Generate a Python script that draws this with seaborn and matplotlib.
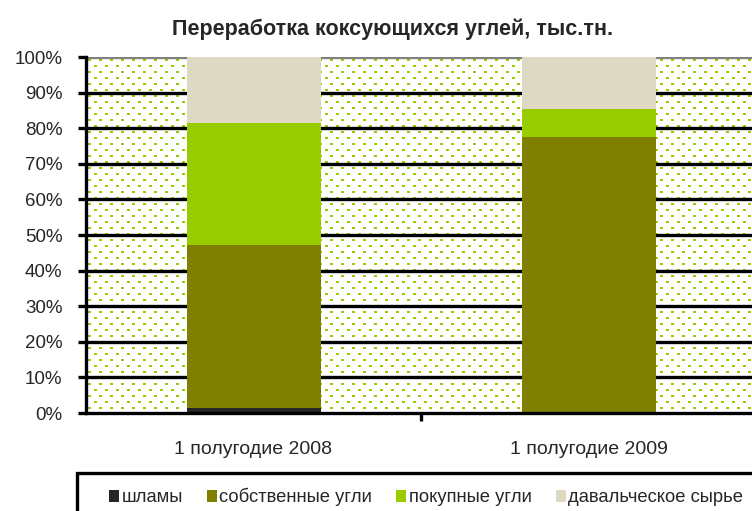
# ---------------------------------------------------
# Import Required Libraries
# ---------------------------------------------------
import numpy as np
import matplotlib
matplotlib.use("Agg")
import matplotlib.pyplot as plt
from matplotlib.patches import Patch, Rectangle
import seaborn as sns

# ---------------------------------------------------
# Data (shares, %)
# ---------------------------------------------------
categories = ["1 полугодие 2008", "1 полугодие 2009"]
series_names = ["шламы", "собственные угли", "покупные угли", "давальческое сырье"]
shlamy = [1.3, 0.0]
own_coal = [46.0, 77.5]
bought_coal = [34.2, 8.0]
toll_raw = [18.5, 14.5]
colors = ["#262626", "#808000", "#99CC00", "#DDD9C3"]
y_ticks = [0, 10, 20, 30, 40, 50, 60, 70, 80, 90, 100]

# ---------------------------------------------------
# Figure setup
# ---------------------------------------------------
sns.set_style("white")
plt.rcParams["font.family"] = ["Liberation Sans", "DejaVu Sans"]

W, H = 752, 511
fig = plt.figure(figsize=(W / 100, H / 100), dpi=100)
ax_l, ax_r, ax_b, ax_t = 86, 756, 413, 57
ax = fig.add_axes([ax_l / W, (H - ax_b) / H, (ax_r - ax_l) / W, (ax_b - ax_t) / H])

# dotted green background of the plot area
pw, ph = ax_r - ax_l, ax_b - ax_t
bg = np.ones((ph, pw, 3))
dot = np.array([0x99, 0xCC, 0x00]) / 255
for r, y0 in enumerate(range(2, ph, 6)):
    x_start = 2 if r % 2 == 0 else 8
    for x0 in range(x_start, pw, 11):
        bg[y0:y0 + 2, x0:x0 + 3] = dot
ax.imshow(bg, extent=(-0.5, 1.5, 0, 100), aspect="auto",
          interpolation="nearest", zorder=0)

# horizontal gridlines
for t in y_ticks[1:]:
    ax.axhline(t, color="#808080" if t == 100 else "black", lw=2.4, zorder=0.5)

# ---------------------------------------------------
# Stacked bars (draw cumulative layers from top down)
# ---------------------------------------------------
layers = [shlamy, own_coal, bought_coal, toll_raw]
cum = np.cumsum(np.array(layers), axis=0)
for i in range(len(layers) - 1, -1, -1):
    sns.barplot(x=categories, y=cum[i], color=colors[i], saturation=1,
                width=0.4, ax=ax, zorder=2, edgecolor="none")

# ---------------------------------------------------
# Axes styling
# ---------------------------------------------------
ax.set_xlim(-0.5, 1.5)
ax.set_ylim(0, 100)
ax.set_yticks(y_ticks)
ax.set_yticklabels([f"{t}%" for t in y_ticks], fontsize=13.5)
ax.tick_params(axis="y", direction="out", length=6, width=2.4, color="black",
               pad=11, left=True)
ax.set_xticks([0, 1])
ax.set_xticklabels(categories, fontsize=14)
ax.tick_params(axis="x", length=0, pad=20)
ax.set_xticks([0.5], minor=True)
ax.tick_params(axis="x", which="minor", direction="out", length=6,
               width=2.4, color="black", bottom=True)
ax.set_xlabel("")
ax.set_ylabel("")
for side in ["top", "right"]:
    ax.spines[side].set_visible(False)
for side in ["left", "bottom"]:
    ax.spines[side].set_color("black")
    ax.spines[side].set_linewidth(2.4)
    ax.spines[side].set_zorder(3)

# Title
fig.text(393 / W, 1 - 29 / H, "Переработка коксующихся углей, тыс.тн.",
         ha="center", va="center", fontsize=15.5, fontweight="bold")

# ---------------------------------------------------
# Legend with box at the bottom
# ---------------------------------------------------
fig.add_artist(Rectangle((77 / W, -0.1), 1.0, (H - 473) / H + 0.1,
                         transform=fig.transFigure, fill=False,
                         edgecolor="black", lw=2.4))
handles = [Patch(facecolor=c, edgecolor="none") for c in colors]
fig.legend(handles, series_names, ncol=4, loc="center",
           bbox_to_anchor=(426 / W, 1 - 497 / H), frameon=False,
           fontsize=13.2, handlelength=0.55, handleheight=0.6,
           handletextpad=0.15, columnspacing=1.3)

plt.savefig("out.png", dpi=100)
